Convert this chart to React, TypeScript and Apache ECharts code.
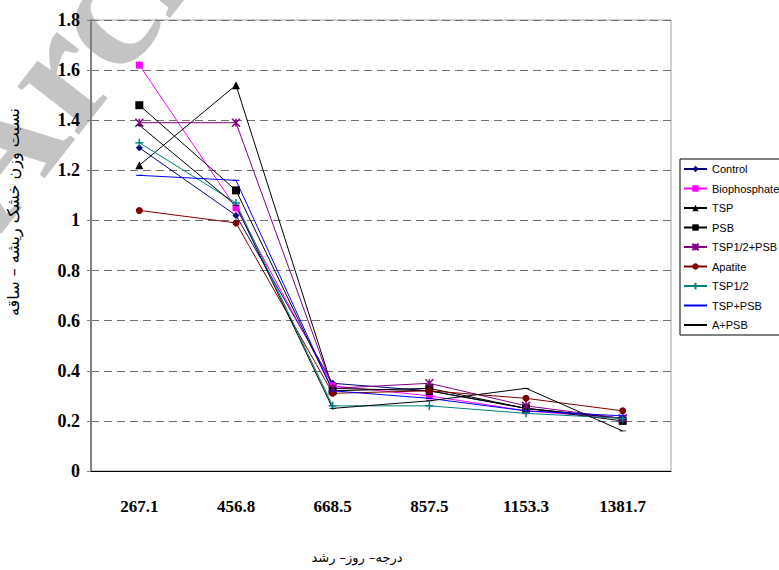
import React, { useEffect, useRef } from "react";
import * as echarts from "echarts";

// Growing degree days (categories on the x axis)
const categories = ["267.1", "456.8", "668.5", "857.5", "1153.3", "1381.7"];

// Root / shoot dry weight ratio per treatment
const control = [1.29, 1.02, 0.35, 0.32, 0.25, 0.21];
const biophosphate = [1.62, 1.05, 0.34, 0.3, 0.24, 0.21];
const tsp = [1.22, 1.54, 0.33, 0.32, 0.25, 0.21];
const psb = [1.46, 1.12, 0.32, 0.33, 0.25, 0.2];
const tspHalfPsb = [1.39, 1.39, 0.33, 0.35, 0.26, 0.21];
const apatite = [1.04, 0.99, 0.31, 0.32, 0.29, 0.24];
const tspHalf = [1.31, 1.07, 0.26, 0.26, 0.23, 0.21];
const tspPsb = [1.18, 1.16, 0.32, 0.29, 0.24, 0.22];
const aPsb = [1.38, 1.06, 0.25, 0.28, 0.33, 0.16];

const yTitle = "نسبت وزن خشک ریشه – ساقه";
const xTitle = "درجه– روز– رشد";

// Marker shapes: an asterisk-like cross, a plus and a short flat dash
const CROSS = "path://M0,0L10,10M10,0L0,10M5,0L5,10";
const PLUS = "path://M5,0L5,10M0,5L10,5";
const DASH = "path://M0,0M10,10M1,4.3L9,4.3L9,5.7L1,5.7Z";
const THIN_DASH = "path://M0,0M10,10M1,4.5L9,4.5L9,5.5L1,5.5Z";

type Spec = {
  name: string;
  data: number[];
  color: string;
  symbol: string;
  size: number;
  stroke?: boolean;
};

const specs: Spec[] = [
  { name: "Control", data: control, color: "#000080", symbol: "diamond", size: 7 },
  { name: "Biophosphate", data: biophosphate, color: "#FF00FF", symbol: "rect", size: 7 },
  { name: "TSP", data: tsp, color: "#000000", symbol: "triangle", size: 8 },
  { name: "PSB", data: psb, color: "#000000", symbol: "rect", size: 8 },
  { name: "TSP1/2+PSB", data: tspHalfPsb, color: "#800080", symbol: CROSS, size: 8, stroke: true },
  { name: "Apatite", data: apatite, color: "#800000", symbol: "circle", size: 7 },
  { name: "TSP1/2", data: tspHalf, color: "#008080", symbol: PLUS, size: 8, stroke: true },
  { name: "TSP+PSB", data: tspPsb, color: "#0000FF", symbol: DASH, size: 8 },
  { name: "A+PSB", data: aPsb, color: "#000000", symbol: THIN_DASH, size: 8 },
];

export default function App() {
  const ref = useRef<HTMLDivElement>(null);

  useEffect(() => {
    if (!ref.current) return;
    const chart = echarts.init(ref.current, undefined, { renderer: "svg" });

    const series = specs.map((s) => ({
      name: s.name,
      type: "line",
      data: s.data,
      symbol: s.symbol,
      symbolSize: s.size,
      showSymbol: true,
      lineStyle: { color: s.color, width: 1 },
      itemStyle: s.stroke
        ? { color: s.color, borderColor: s.color, borderWidth: 1.5 }
        : { color: s.color, borderWidth: 0 },
      z: 3,
    }));

    chart.setOption({
      animation: false,
      backgroundColor: "#ffffff",
      grid: {
        left: 91,
        right: 108,
        top: 20,
        bottom: 99,
        show: true,
        borderColor: "#a0a0a0",
        borderWidth: 1,
        outerBoundsMode: "none",
      },
      legend: {
        orient: "vertical",
        left: 680,
        top: 159,
        data: specs.map((s) => s.name),
        itemWidth: 23,
        itemHeight: 8,
        itemGap: 7.5,
        padding: [4, 3, 4, 3],
        borderColor: "#000000",
        borderWidth: 1,
        backgroundColor: "#ffffff",
        textStyle: {
          fontFamily: "Liberation Sans",
          fontSize: 11,
          color: "#000000",
          lineHeight: 12,
        },
        selectedMode: false,
      },
      xAxis: {
        type: "category",
        data: categories,
        boundaryGap: true,
        axisLine: { lineStyle: { color: "#000000", width: 1 } },
        axisTick: { show: false },
        axisLabel: {
          fontFamily: "Liberation Serif",
          fontWeight: "bold",
          fontSize: 17,
          color: "#000000",
          margin: 27,
        },
        splitLine: { show: false },
      },
      yAxis: {
        type: "value",
        min: 0,
        max: 1.8,
        interval: 0.2,
        axisLine: { show: true, lineStyle: { color: "#808080", width: 2 } },
        axisTick: { show: true, length: 4, lineStyle: { color: "#808080" } },
        axisLabel: {
          fontFamily: "Liberation Serif",
          fontWeight: "bold",
          fontSize: 18,
          color: "#000000",
          margin: 11,
          formatter: (v: number) => String(+v.toFixed(1)),
        },
        splitLine: {
          show: true,
          lineStyle: { color: "#707070", type: [8, 5], width: 1 },
        },
      },
      graphic: [
        {
          type: "text",
          z: -1,
          x: 22,
          y: 252,
          rotation: (52 * Math.PI) / 180,
          style: {
            text: "Archive of SID",
            fontFamily: "Liberation Serif",
            fontWeight: "bold",
            fontSize: 170,
            fill: "#c4c4c4",
            verticalAlign: "bottom",
          },
        },
        {
          type: "text",
          x: 13,
          y: 212,
          rotation: Math.PI / 2,
          style: {
            text: yTitle,
            fontFamily: "DejaVu Sans",
            fontSize: 16,
            fill: "#000000",
            align: "center",
            verticalAlign: "middle",
          },
        },
        {
          type: "text",
          x: 357,
          y: 557,
          style: {
            text: xTitle,
            fontFamily: "DejaVu Sans",
            fontSize: 13,
            fill: "#000000",
            align: "center",
            verticalAlign: "middle",
          },
        },
      ],
      series,
    });

    return () => chart.dispose();
  }, []);

  return (
    <div
      ref={ref}
      style={{ position: "fixed", left: 0, top: 0, width: 779, height: 570 }}
    />
  );
}
